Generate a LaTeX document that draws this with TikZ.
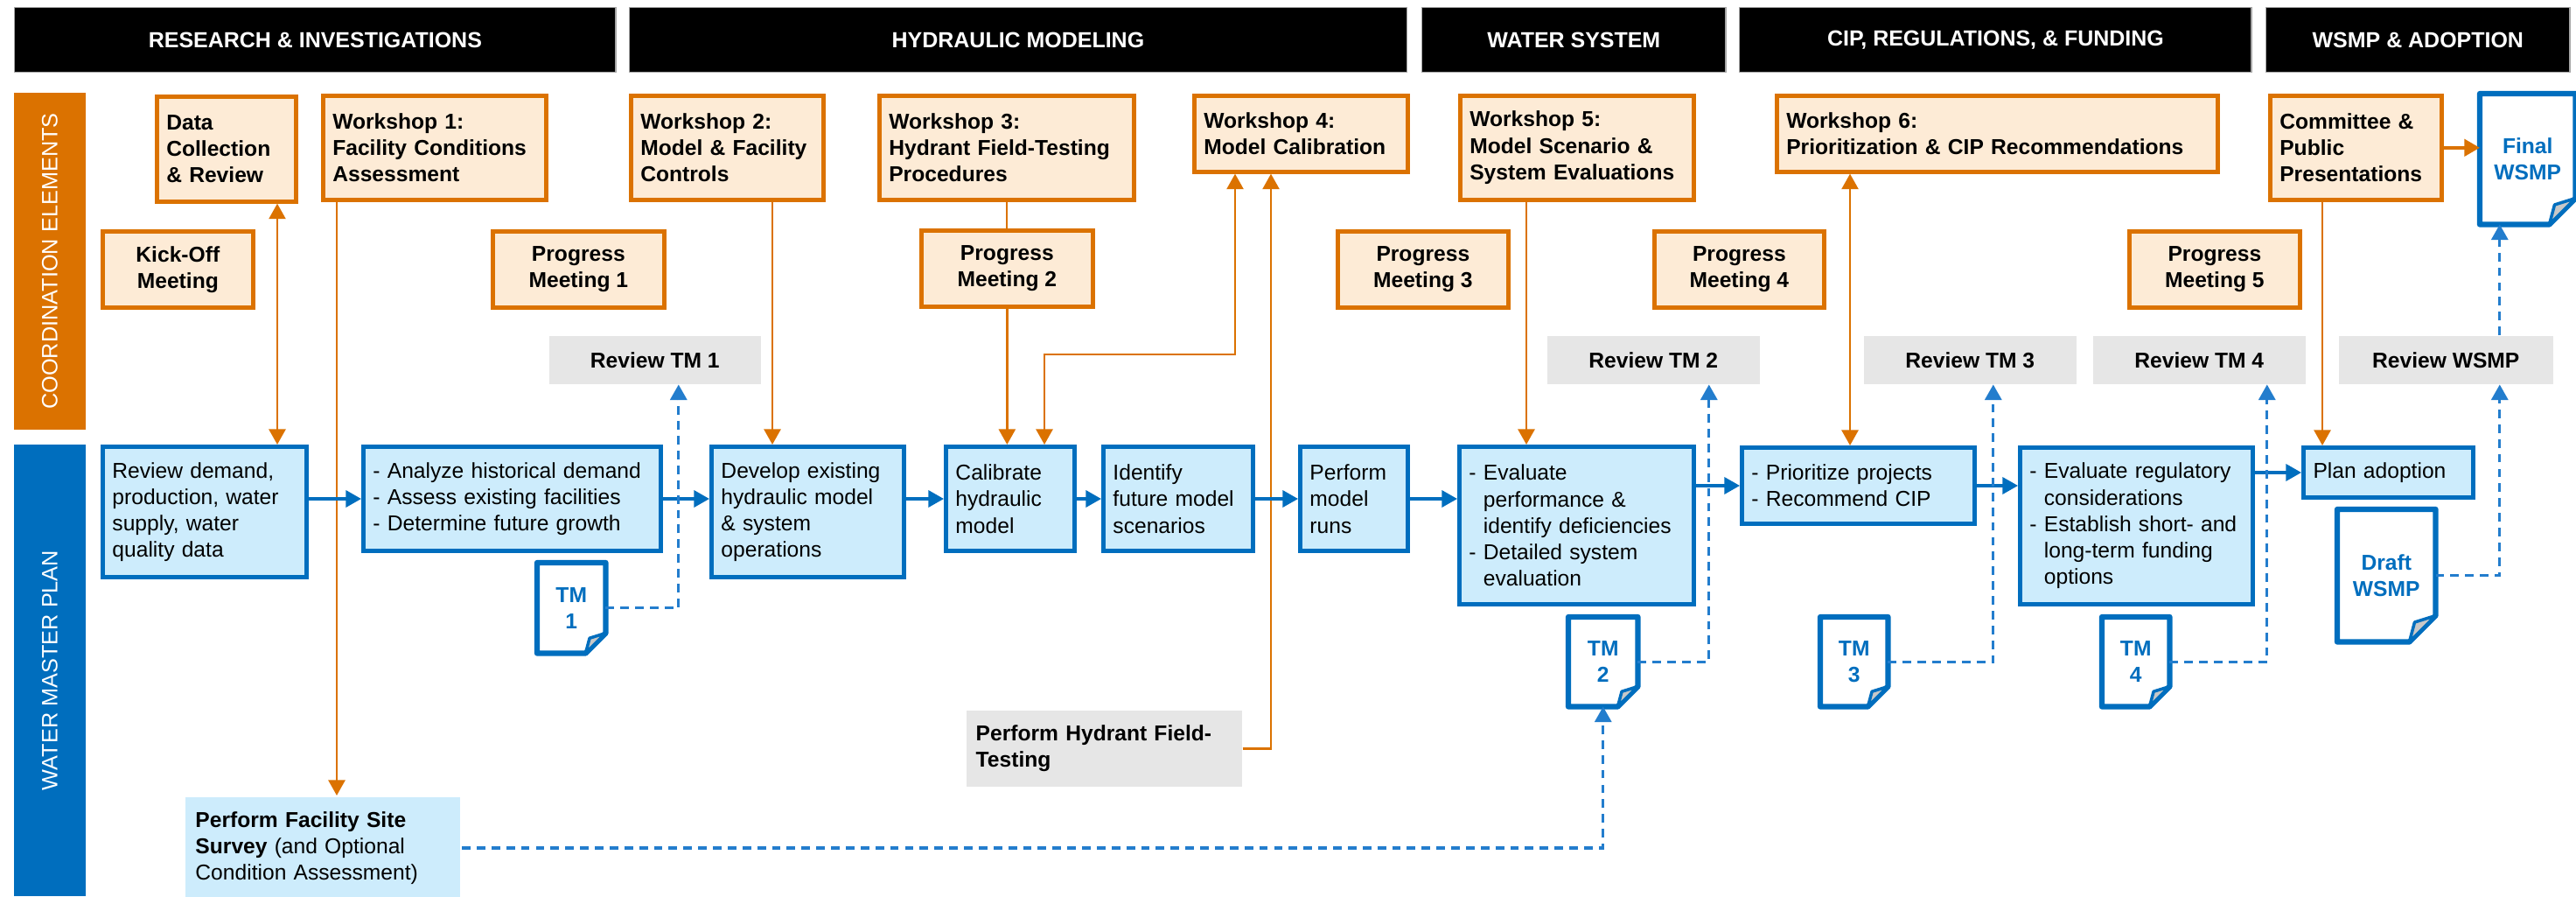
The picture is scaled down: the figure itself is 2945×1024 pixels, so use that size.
\documentclass[tikz,border=0pt]{standalone}
\usepackage{fontspec}
\setmainfont{Liberation Sans}
\usetikzlibrary{arrows.meta,positioning,calc}

\definecolor{orng}{RGB}{219,114,0}
\definecolor{peach}{RGB}{253,235,214}
\definecolor{blu}{RGB}{0,110,190}
\definecolor{skyb}{RGB}{205,236,252}
\definecolor{dashblu}{RGB}{35,125,205}
\definecolor{revgray}{RGB}{230,230,230}
\definecolor{flapgray}{RGB}{200,200,200}

\newcommand{\ind}{\phantom{-\ }}
% document outline with folded corner round a named node
\newcommand{\docfold}[2]{%
  \draw[docedge] (#1.north west) -- (#1.north east) -- ([shift={(0,-#2)}]#1.south east)
    -- ([shift={(-#2,0)}]#1.south east) -- (#1.south west) -- cycle;
  \draw[docedge, line width=1pt, fill=flapgray] ([shift={(0,-#2)}]#1.south east)
    -- ([shift={(-0.8*#2,-0.75*#2)}]#1.south east) -- ([shift={(-#2,0)}]#1.south east) -- cycle;}

\begin{document}
\begin{tikzpicture}[x=0.01cm, y=-0.01cm,
every node/.style={inner sep=0pt, font=\fontsize{7}{8.6}\selectfont},
phase/.style={anchor=north west, fill=black, draw=black!35, line width=0.4pt, text=white, font=\bfseries\fontsize{7.1}{8.6}\selectfont, minimum height=0.74cm},
lane/.style={rotate=90, text=white, font=\fontsize{7.2}{8.6}\selectfont, minimum height=0.82cm},
ws/.style={anchor=north west, draw=orng, fill=peach, line width=1.3pt, font=\bfseries\fontsize{7}{8.6}\selectfont, align=left, inner xsep=0.11cm},
meet/.style={ws, align=center, minimum height=0.87cm},
task/.style={anchor=north west, draw=blu, fill=skyb, line width=1.4pt, align=left, inner xsep=0.11cm},
rev/.style={anchor=north west, fill=revgray, font=\bfseries\fontsize{7}{8.6}\selectfont, minimum height=0.55cm},
doc/.style={anchor=north west, text=blu, font=\bfseries\fontsize{7}{8.6}\selectfont, align=center},
docedge/.style={draw=blu, line width=1.8pt, line join=round},
oline/.style={draw=orng, line width=0.75pt},
oarrow/.style={oline, -{Triangle[length=5pt,width=5.4pt]}},
obiarrow/.style={oline, {Triangle[length=5pt,width=5.4pt]}-{Triangle[length=5pt,width=5.4pt]}},
flow/.style={draw=blu, line width=0.9pt, -{Triangle[length=5pt,width=5.4pt]}},
dflow/.style={draw=dashblu, line width=0.9pt, dash pattern=on 2.8pt off 2pt, -{Triangle[length=5pt,width=5.4pt]}}]

\path[use as bounding box, fill=white] (0,0) rectangle (2945,1024);

% phases
\node[phase, minimum width=6.87cm] (ph1) at (16,8) {RESEARCH \& INVESTIGATIONS};
\node[phase, minimum width=8.88cm] (ph2) at (719,8) {HYDRAULIC MODELING};
\node[phase, minimum width=3.47cm] (ph3) at (1625,8) {WATER SYSTEM};
\node[phase, minimum width=5.85cm] (ph4) at (1988,8) {CIP, REGULATIONS, \& FUNDING};
\node[phase, minimum width=3.47cm] (ph5) at (2590,8) {WSMP \& ADOPTION};

% lanes
\node[lane, fill=orng, minimum width=3.85cm] (lane1) at (57,298.5) {COORDINATION ELEMENTS};
\node[lane, fill=blu, minimum width=5.16cm] (lane2) at (57,766) {WATER MASTER PLAN};

% coordination elements
\node[ws, text width=1.37cm, minimum height=1.20cm] (data) at (177,108) {Data\\Collection\\\& Review};
\node[ws, text width=2.33cm, minimum height=1.19cm] (ws1) at (367,107) {Workshop 1:\\Facility Conditions\\Assessment};
\node[ws, text width=1.98cm, minimum height=1.19cm] (ws2) at (719,107) {Workshop 2:\\Model \& Facility\\Controls};
\node[ws, text width=2.69cm, minimum height=1.19cm] (ws3) at (1003,107) {Workshop 3:\\Hydrant Field-Testing\\Procedures};
\node[ws, text width=2.22cm, minimum height=0.87cm] (ws4) at (1363,107) {Workshop 4:\\Model Calibration};
\node[ws, text width=2.45cm, minimum height=1.19cm] (ws5) at (1667,107) {Workshop 5:\\Model Scenario \&\\System Evaluations};
\node[ws, text width=4.82cm, minimum height=0.87cm] (ws6) at (2029,107) {Workshop 6:\\Prioritization \& CIP Recommendations};
\node[ws, text width=1.74cm, minimum height=1.19cm] (pub) at (2593,107) {Committee \&\\Public\\Presentations};

\node[meet, minimum width=1.72cm] (kick) at (115,262) {Kick-Off\\Meeting};
\node[meet, minimum width=1.96cm] (pm1) at (561,262) {Progress\\Meeting 1};
\node[meet, minimum width=1.96cm] (pm2) at (1051,261) {Progress\\Meeting 2};
\node[meet, minimum width=1.95cm] (pm3) at (1527,262) {Progress\\Meeting 3};
\node[meet, minimum width=1.94cm] (pm4) at (1889,262) {Progress\\Meeting 4};
\node[meet, minimum width=1.95cm] (pm5) at (2432,262) {Progress\\Meeting 5};

\node[rev, minimum width=2.42cm] (rev1) at (627,383) {Review TM 1};
\node[rev, minimum width=2.43cm] (rev2) at (1768,383) {Review TM 2};
\node[rev, minimum width=2.43cm] (rev3) at (2130,383) {Review TM 3};
\node[rev, minimum width=2.43cm] (rev4) at (2392,383) {Review TM 4};
\node[rev, minimum width=2.45cm] (rev5) at (2673,383) {Review WSMP};

% water master plan
\node[task, text width=2.11cm, minimum height=1.49cm] (t1) at (115,508) {Review demand,\\production, water\\supply, water\\quality data};
\node[task, text width=3.18cm, minimum height=1.19cm] (t2) at (413,508) {- Analyze historical demand\\- Assess existing facilities\\- Determine future growth};
\node[task, text width=1.98cm, minimum height=1.49cm] (t3) at (811,508) {Develop existing\\hydraulic model\\\& system\\operations};
\node[task, text width=1.25cm, minimum height=1.19cm] (t4) at (1079,508) {Calibrate\\hydraulic\\model};
\node[task, text width=1.49cm, minimum height=1.19cm] (t5) at (1259,508) {Identify\\future model\\scenarios};
\node[task, text width=1.01cm, minimum height=1.19cm] (t6) at (1484,508) {Perform\\model\\runs};
\node[task, text width=2.46cm, minimum height=1.80cm] (t7) at (1666,508) {- Evaluate\\\ind performance \&\\\ind identify deficiencies\\- Detailed system\\\ind evaluation};
\node[task, text width=2.44cm, minimum height=0.87cm] (t8) at (1989,509) {- Prioritize projects\\- Recommend CIP};
\node[task, text width=2.44cm, minimum height=1.79cm] (t9) at (2307,509) {- Evaluate regulatory\\\ind considerations\\- Establish short- and\\\ind long-term funding\\\ind options};
\node[task, text width=1.72cm, minimum height=0.57cm] (t10) at (2631,509) {Plan adoption};

\node[task, draw=none, text width=2.91cm, minimum height=1.15cm] (survey) at (210,909) {\textbf{Perform Facility Site}\\\textbf{Survey} (and Optional\\Condition Assessment)};
\node[rev, align=left, inner xsep=0.11cm, text width=2.93cm, minimum height=0.87cm] (hydr) at (1104,811) {Perform Hydrant Field-\\Testing};

% documents
\node[doc, minimum width=0.77cm, minimum height=1.02cm] (tm1) at (614,643) {TM\\1};
\node[doc, minimum width=0.78cm, minimum height=1.01cm] (tm2) at (1793,705) {TM\\2};
\node[doc, minimum width=0.76cm, minimum height=1.01cm] (tm3) at (2081,705) {TM\\3};
\node[doc, minimum width=0.76cm, minimum height=1.01cm] (tm4) at (2403,705) {TM\\4};
\node[doc, minimum width=1.11cm, minimum height=1.50cm] (draft) at (2672,582) {Draft\\WSMP};
\node[doc, minimum width=1.08cm, minimum height=1.48cm] (final) at (2835,107) {Final\\WSMP};
\docfold{tm1}{23}
\docfold{tm2}{23}
\docfold{tm3}{23}
\docfold{tm4}{23}
\docfold{draft}{30}
\docfold{final}{30}

% orange links
\draw[obiarrow] ([shift={(140,0)}]data.south west) -- ([shift={(140,0)}]data.south west |- t1.north);
\draw[oarrow] ([shift={(18,0)}]ws1.south west) -- ([shift={(18,0)}]ws1.south west |- survey.north);
\draw[oarrow] ([shift={(164,0)}]ws2.south west) -- ([shift={(164,0)}]ws2.south west |- t3.north);
\draw[oline] (ws3.south) -- (ws3.south |- pm2.north);
\draw[oarrow] (pm2.south) -- (pm2.south |- t4.north);
\draw[obiarrow] ([shift={(115,0)}]t4.north west) -- ++(0,-103) -| ([shift={(49,0)}]ws4.south west);
\draw[oarrow] (hydr.east) -| ([shift={(90,0)}]ws4.south west);
\draw[oarrow] ([shift={(78,0)}]ws5.south west) -- ([shift={(78,0)}]ws5.south west |- t7.north);
\draw[obiarrow] ([shift={(86,0)}]ws6.south west) -- ([shift={(86,0)}]ws6.south west |- t8.north);
\draw[oarrow] ([shift={(62,0)}]pub.south west) -- ([shift={(62,0)}]pub.south west |- t10.north);
\draw[oarrow, line width=1.2pt] (pub.east) -- (pub.east -| final.west);

% task flow
\draw[flow] (t1.east |- t2.west) -- (t2.west);
\draw[flow] (t2.east) -- (t2.east -| t3.west);
\draw[flow] (t3.east |- t4.west) -- (t4.west);
\draw[flow] (t4.east) -- (t5.west);
\draw[flow] (t5.east) -- (t6.west);
\draw[flow] (t6.east) -- (t6.east -| t7.west);
\draw[flow] (t7.east |- t8.west) -- (t8.west);
\draw[flow] (t8.east) -- (t8.east -| t9.west);
\draw[flow] (t9.east |- t10.west) -- (t10.west);

% reviews
\draw[dflow] (tm1.east) -| ([shift={(27,0)}]rev1.south);
\draw[dflow] (tm2.east) -| ([shift={(63.5,0)}]rev2.south);
\draw[dflow] (tm3.east) -| ([shift={(26.5,0)}]rev3.south);
\draw[dflow] (tm4.east) -| ([shift={(77.5,0)}]rev4.south);
\draw[dflow] (draft.east) -| ([shift={(61.5,0)}]rev5.south);
\draw[dflow] ([shift={(61.5,0)}]rev5.north) -- ([shift={(61.5,0)}]rev5.north |- final.south);
\draw[dflow] (survey.east) -| (tm2.south);
\end{tikzpicture}
\end{document}
